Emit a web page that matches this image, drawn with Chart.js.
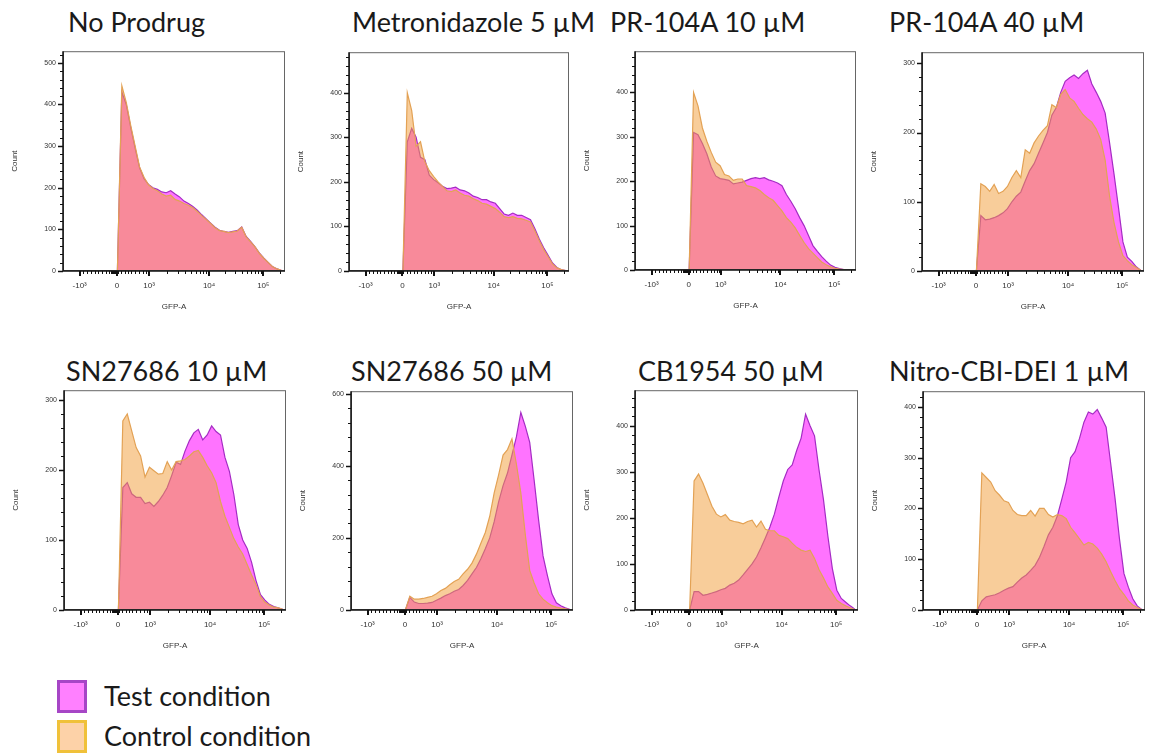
<!DOCTYPE html>
<html>
<head>
<meta charset="utf-8">
<script src="https://cdn.jsdelivr.net/npm/chart.js@4.4.1/dist/chart.umd.min.js"></script>
<style>
  body { margin: 0; background: #fff; width: 1162px; height: 754px; position: relative; overflow: hidden; }
  canvas { position: absolute; }
  .ttl { position: absolute; font: 27px Lato, "Open Sans", sans-serif; color: #1a1a1a; white-space: nowrap; line-height: 27px; }
  .key { position: absolute; left: 57px; width: 24px; height: 27px; border: 3px solid; }
  .keytxt { position: absolute; left: 104px; font: 27px Lato, "Open Sans", sans-serif; color: #1a1a1a; line-height: 27px; white-space: nowrap; }
</style>
</head>
<body>

<script>
// GFP-A histograms, x = position on the biexponential display axis (0..1000 across the plot)
var channels = [245, 265, 285, 305, 325, 345, 365, 385, 405, 425, 445, 465, 485, 505, 525, 545, 565, 585, 605,
  625, 645, 665, 685, 705, 725, 745, 765, 785, 805, 825, 845, 865, 885, 905, 925, 945, 965, 985];

// where the decade labels sit on that display axis
var xTickPos = [75, 243, 388, 658, 902];
var xTickLabels = ['-10³', '0', '10³', '10⁴', '10⁵'];

var titles = ['No Prodrug', 'Metronidazole 5 µM', 'PR-104A 10 µM', 'PR-104A 40 µM',
  'SN27686 10 µM', 'SN27686 50 µM', 'CB1954 50 µM', 'Nitro-CBI-DEI 1 µM'];

// y axis top and label step per panel
var yMax = [528, 491, 493, 316, 314, 607, 477, 431];
var yStep = [100, 100, 100, 100, 100, 200, 100, 100];

// counts, control condition
var ctlNoProdrug = [0, 445, 405, 350, 300, 250, 225, 207, 198, 193, 185, 180, 182, 172, 168, 162, 158, 152, 143,
  133, 124, 114, 104, 97, 95, 92, 94, 96, 105, 82, 70, 58, 42, 30, 20, 10, 5, 1];
var ctlMetro = [0, 400, 360, 280, 290, 245, 225, 212, 200, 190, 180, 178, 182, 175, 170, 168, 162, 158, 152,
  150, 145, 140, 132, 122, 120, 122, 118, 117, 114, 110, 90, 68, 48, 32, 16, 7, 3, 1];
var ctlPR10 = [0, 400, 370, 320, 290, 265, 243, 235, 215, 212, 202, 205, 205, 190, 188, 185, 179, 170, 163,
  157, 145, 133, 118, 108, 95, 78, 62, 48, 38, 28, 18, 12, 7, 4, 2, 1, 0, 0];
var ctlPR40 = [0, 126, 122, 115, 125, 112, 115, 122, 135, 145, 135, 175, 170, 185, 195, 203, 210, 240, 236,
  255, 262, 250, 245, 235, 226, 220, 215, 205, 190, 160, 108, 70, 42, 22, 15, 9, 5, 1];
var ctlSN10 = [0, 270, 280, 256, 232, 220, 190, 204, 199, 194, 195, 212, 200, 212, 213, 215, 220, 226, 228,
  218, 206, 196, 182, 155, 134, 118, 102, 90, 80, 65, 50, 36, 19, 11, 7, 4, 3, 1];
var ctlSN50 = [0, 38, 30, 30, 32, 35, 38, 45, 54, 60, 70, 79, 85, 100, 113, 130, 155, 185, 215,
  260, 325, 375, 430, 445, 475, 405, 325, 210, 110, 75, 45, 30, 20, 12, 8, 5, 3, 1];
var ctlCB = [0, 280, 295, 275, 250, 225, 208, 202, 207, 195, 192, 190, 187, 192, 195, 180, 193, 175, 172,
  172, 162, 159, 155, 145, 136, 130, 127, 130, 112, 88, 70, 50, 36, 21, 14, 9, 5, 1];
var ctlNitro = [0, 270, 261, 252, 235, 226, 215, 212, 196, 188, 186, 186, 196, 185, 200, 200, 188, 183, 188,
  186, 180, 163, 152, 140, 128, 133, 130, 122, 110, 95, 76, 58, 42, 31, 18, 10, 5, 1];

// counts, test condition
var testNoProdrug = [0, 430, 400, 345, 295, 248, 222, 208, 200, 196, 190, 188, 193, 185, 178, 168, 162, 155, 146,
  135, 125, 115, 105, 98, 95, 93, 95, 97, 106, 83, 71, 58, 43, 31, 20, 10, 5, 1];
var testMetro = [0, 290, 320, 300, 255, 250, 215, 205, 198, 190, 185, 186, 188, 182, 180, 175, 168, 165, 160,
  160, 155, 152, 140, 128, 125, 130, 125, 125, 120, 115, 95, 72, 52, 35, 18, 8, 3, 1];
var testPR10 = [0, 310, 305, 285, 262, 232, 212, 206, 204, 202, 194, 196, 198, 202, 206, 208, 206, 208, 203,
  200, 196, 190, 170, 155, 138, 118, 100, 78, 55, 42, 30, 20, 11, 6, 3, 1, 0, 0];
var testPR40 = [0, 80, 74, 75, 77, 80, 84, 90, 100, 108, 114, 130, 145, 155, 170, 185, 200, 225, 236,
  258, 274, 279, 283, 278, 285, 290, 270, 258, 245, 228, 185, 140, 92, 42, 20, 14, 6, 1];
var testSN10 = [0, 175, 182, 166, 161, 161, 152, 154, 148, 155, 164, 175, 192, 211, 208, 227, 242, 253, 258,
  243, 250, 263, 255, 250, 218, 198, 165, 122, 100, 88, 68, 42, 22, 14, 8, 5, 3, 1];
var testSN50 = [0, 35, 22, 18, 18, 19, 21, 27, 33, 40, 45, 52, 57, 68, 82, 100, 118, 142, 170,
  200, 245, 300, 345, 380, 430, 480, 548, 510, 465, 360, 250, 150, 95, 45, 20, 12, 6, 2];
var testCB = [0, 40, 40, 32, 34, 37, 40, 44, 47, 54, 58, 65, 76, 88, 100, 115, 135, 157, 180,
  208, 245, 280, 305, 315, 346, 373, 425, 400, 378, 305, 240, 160, 90, 43, 25, 17, 9, 2];
var testNitro = [0, 18, 26, 28, 30, 34, 39, 43, 46, 55, 63, 69, 78, 88, 104, 125, 148, 163, 185,
  218, 252, 300, 312, 338, 370, 390, 386, 395, 378, 360, 290, 220, 140, 72, 45, 22, 8, 1];

var controls = [ctlNoProdrug, ctlMetro, ctlPR10, ctlPR40, ctlSN10, ctlSN50, ctlCB, ctlNitro];
var tests = [testNoProdrug, testMetro, testPR10, testPR40, testSN10, testSN50, testCB, testNitro];

// plot box of each panel on the page: left, top, width, height
var boxes = [
  [63, 50, 222, 221], [349, 51, 220, 220], [635, 50, 221, 220], [922, 51, 222, 220],
  [64, 389, 222, 221], [351, 390, 222, 220], [635, 389, 223, 221], [923, 390, 222, 220]
];
var titlePos = [
  [68, 8], [352, 8], [610, 8], [889, 8],
  [66, 357], [351, 357], [638, 357], [889, 357]
];

// minor ticks on the GFP-A axis
var xMinor = [];
[0.1, 0.2, 0.3, 0.4, 0.5, 0.6, 0.7, 0.78, 0.85, 0.88, 0.9, 0.92, 0.94, 0.96, 0.98].forEach(function (f) {
  xMinor.push(xTickPos[0] + f * (xTickPos[1] - xTickPos[0]));
});
[0.03, 0.13, 0.24, 0.35, 0.45, 0.57, 0.7, 0.8, 0.89, 0.95].forEach(function (f) {
  xMinor.push(xTickPos[1] + f * (xTickPos[2] - xTickPos[1]));
});
for (var d = 2; d < 5; d++) {
  var span = d < 4 ? xTickPos[d + 1] - xTickPos[d] : xTickPos[4] - xTickPos[3];
  for (var m = 2; m <= 9; m++) {
    var p = xTickPos[d] + Math.log10(m) * span;
    if (p < 1000) xMinor.push(p);
  }
}

var frameTicks = {
  id: 'frameTicks',
  afterDraw: function (chart) {
    var ctx = chart.ctx, a = chart.chartArea, x = chart.scales.x, y = chart.scales.y;
    var step = chart.options.plugins.frameTicks.step;
    ctx.save();
    ctx.strokeStyle = '#666';
    ctx.lineWidth = 1;
    ctx.strokeRect(a.left + 0.5, a.top + 0.5, a.width - 1, a.height - 1);
    ctx.strokeStyle = '#111';
    ctx.lineWidth = 1.5;
    ctx.beginPath();
    ctx.moveTo(a.left, a.top);
    ctx.lineTo(a.left, a.bottom);
    ctx.lineTo(a.right, a.bottom);
    ctx.stroke();

    function tick(x1, y1, x2, y2, w) {
      ctx.lineWidth = w;
      ctx.beginPath();
      ctx.moveTo(x1, y1);
      ctx.lineTo(x2, y2);
      ctx.stroke();
    }
    xMinor.forEach(function (v) {
      var px = Math.round(x.getPixelForValue(v)) + 0.5;
      tick(px, a.bottom, px, a.bottom + 3, 1);
    });
    xTickPos.forEach(function (v) {
      var px = Math.round(x.getPixelForValue(v));
      tick(px, a.bottom, px, a.bottom + 5, 2);
    });
    for (var v = 0; v <= y.max; v += step / 5) {
      var py = Math.round(y.getPixelForValue(v)) + 0.5;
      var major = Math.abs(v / step - Math.round(v / step)) < 1e-6;
      tick(a.left, py, a.left - (major ? 5 : 3), py, major ? 1.5 : 1);
    }
    ctx.restore();
  }
};

var tickFont = { family: 'Liberation Sans, Arial, sans-serif', size: 7 };
var xTickFont = { family: 'Liberation Sans, Arial, sans-serif', size: 8 };

titles.forEach(function (t, i) {
  var b = boxes[i];
  var div = document.createElement('div');
  div.className = 'ttl';
  div.textContent = t;
  div.style.left = titlePos[i][0] + 'px';
  div.style.top = titlePos[i][1] + 'px';
  document.body.appendChild(div);

  var cv = document.createElement('canvas');
  cv.width = b[2] + 70;
  cv.height = b[3] + 55;
  cv.style.left = (b[0] - 60) + 'px';
  cv.style.top = (b[1] - 10) + 'px';
  document.body.appendChild(cv);

  new Chart(cv.getContext('2d'), {
    type: 'line',
    data: {
      datasets: [
        {
          label: 'Control condition',
          data: channels.map(function (c, k) { return { x: c, y: controls[i][k] }; }),
          backgroundColor: 'rgba(242,160,62,0.52)',
          borderColor: '#e3a255',
          borderWidth: 1.2,
          fill: 'origin',
          order: 0
        },
        {
          label: 'Test condition',
          data: channels.map(function (c, k) { return { x: c, y: tests[i][k] }; }),
          backgroundColor: 'rgba(255,0,255,0.55)',
          borderColor: '#a52cc4',
          borderWidth: 1.2,
          fill: 'origin',
          order: 1
        }
      ]
    },
    options: {
      responsive: false,
      animation: false,
      layout: { padding: { top: 10, right: 10, left: 0, bottom: 0 } },
      elements: { point: { radius: 0 }, line: { tension: 0 } },
      plugins: {
        legend: { display: false },
        tooltip: { enabled: false },
        frameTicks: { step: yStep[i] }
      },
      scales: {
        x: {
          type: 'linear',
          min: 0,
          max: 1000,
          bounds: 'data',
          grid: { display: false, drawTicks: false },
          border: { display: false },
          afterBuildTicks: function (s) {
            s.ticks = xTickPos.map(function (v) { return { value: v }; });
          },
          afterFit: function (s) { s.height = 45; },
          ticks: {
            autoSkip: false,
            maxRotation: 0,
            padding: 10,
            color: '#333',
            font: xTickFont,
            callback: function (v) { return xTickLabels[xTickPos.indexOf(v)]; }
          },
          title: { display: true, text: 'GFP-A', color: '#333', font: { family: 'Liberation Sans, Arial, sans-serif', size: 8 }, padding: { top: 0, bottom: 4 } }
        },
        y: {
          min: 0,
          max: yMax[i],
          bounds: 'data',
          grid: { display: false, drawTicks: false },
          border: { display: false },
          afterBuildTicks: function (s) {
            var t = [];
            for (var v = 0; v <= yMax[i]; v += yStep[i]) t.push({ value: v });
            s.ticks = t;
          },
          afterFit: function (s) { s.width = 60; },
          ticks: { padding: 7, color: '#333', font: tickFont },
          title: { display: true, text: 'Count', color: '#333', font: { family: 'Liberation Sans, Arial, sans-serif', size: 8 }, padding: { top: 7, bottom: 0 } }
        }
      }
    },
    plugins: [frameTicks]
  });
});
</script>

<div class="key" style="top:680px;background:#ff80ff;border-color:#a646c6;"></div>
<div class="keytxt" style="top:682px;">Test condition</div>
<div class="key" style="top:720px;background:#fdd2a8;border-color:#f0c13a;"></div>
<div class="keytxt" style="top:722px;">Control condition</div>

</body>
</html>
